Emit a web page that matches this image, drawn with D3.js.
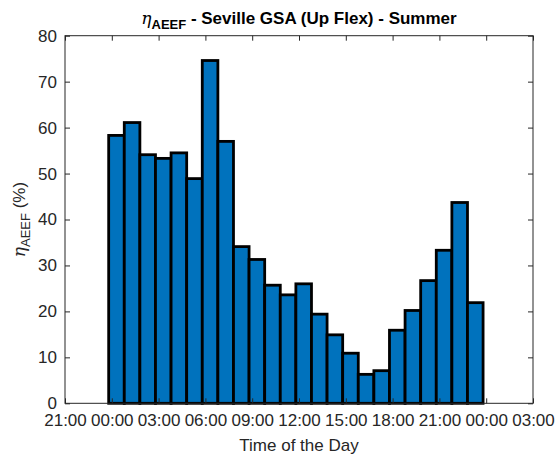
<!DOCTYPE html>
<html><head><meta charset="utf-8">
<script src="https://cdn.jsdelivr.net/npm/d3@7"></script>
<style>
body{margin:0;background:#fff}
text{font-family:"Liberation Sans",Arial,Helvetica,sans-serif}
</style></head>
<body><script>
// ---- data ----
const hours = d3.range(0, 24);
const values = [58.3, 61.1, 54.1, 53.3, 54.5, 48.9, 74.6, 57.0, 34.1, 31.3, 25.7, 23.6,
                26.0, 19.4, 14.9, 10.9, 6.3, 7.1, 15.9, 20.2, 26.7, 33.3, 43.7, 21.9];
const xTickHours = [-3, 0, 3, 6, 9, 12, 15, 18, 21, 24, 27];
const xTickLabels = ["21:00","00:00","03:00","06:00","09:00","12:00","15:00","18:00","21:00","00:00","03:00"];
const yTicks = [0, 10, 20, 30, 40, 50, 60, 70, 80];

// ---- layout ----
const W = 555, H = 457;
const L = 65, R = 533, T = 35.7, B = 403.3;
const barOffset = 0.3;   // bar centre offset from the hour (hours)
const ink = "#262626";

const svg = d3.select("body").append("svg").attr("width", W).attr("height", H);

const x = d3.scaleLinear().domain([-3, 27]).range([L, R]);
const y = d3.scaleLinear().domain([0, 80]).range([B, T]);

// bars
svg.append("g").selectAll("rect").data(hours).join("rect")
  .attr("x", d => x(d + barOffset - 0.5))
  .attr("width", d => x(d + barOffset + 0.5) - x(d + barOffset - 0.5))
  .attr("y", d => y(values[d]))
  .attr("height", d => y(0) - y(values[d]))
  .attr("fill", "#0072BD")
  .attr("stroke", "#000")
  .attr("stroke-width", 2.8);

// axes
const fmt = d => xTickLabels[xTickHours.indexOf(d)];
const gx = svg.append("g").attr("transform", `translate(0,${B})`)
  .call(d3.axisBottom(x).tickValues(xTickHours).tickFormat(fmt).tickSizeInner(-5).tickSizeOuter(0).tickPadding(11));
const gxt = svg.append("g").attr("transform", `translate(0,${T})`)
  .call(d3.axisTop(x).tickValues(xTickHours).tickFormat("").tickSizeInner(-5).tickSizeOuter(0));
const gy = svg.append("g").attr("transform", `translate(${L},0)`)
  .call(d3.axisLeft(y).tickValues(yTicks).tickSizeInner(-5).tickSizeOuter(0).tickPadding(8));
const gyr = svg.append("g").attr("transform", `translate(${R},0)`)
  .call(d3.axisRight(y).tickValues(yTicks).tickFormat("").tickSizeInner(-5).tickSizeOuter(0));

[gx, gxt, gy, gyr].forEach(g => {
  g.select(".domain").remove();
  g.selectAll("line").attr("stroke", ink);
  g.selectAll("text").attr("fill", ink).style("font-size", "17px")
   .style("font-family", '"Liberation Sans",Arial,Helvetica,sans-serif');
});

// box
svg.append("rect").attr("x", L).attr("y", T).attr("width", R - L).attr("height", B - T)
  .attr("fill", "none").attr("stroke", ink).attr("stroke-width", 1);

// x label
svg.append("text").attr("x", (L + R) / 2).attr("y", 451).attr("text-anchor", "middle")
  .attr("fill", ink).style("font-size", "17px").text("Time of the Day");

// y label
const yl = svg.append("text").attr("transform", `translate(25,${(T + B) / 2}) rotate(-90)`)
  .attr("text-anchor", "middle").attr("fill", ink).style("font-size", "17px");
yl.append("tspan").style("font-style", "italic").style("font-family", '"DejaVu Serif",serif').text("η");
yl.append("tspan").attr("dy", 5).style("font-size", "13px").text("AEEF");
yl.append("tspan").attr("dy", -5).text(" (%)");

// title
const tt = svg.append("text").attr("x", (L + R) / 2).attr("y", 24).attr("text-anchor", "middle")
  .attr("fill", "#000").style("font-size", "17px").style("font-weight", "bold");
tt.append("tspan").style("font-style", "italic").style("font-weight", "normal").style("font-family", '"DejaVu Serif",serif').text("η");
tt.append("tspan").attr("dy", 5).style("font-size", "13px").text("AEEF");
tt.append("tspan").attr("dy", -5).text(" - Seville GSA (Up Flex) - Summer");
</script></body></html>
